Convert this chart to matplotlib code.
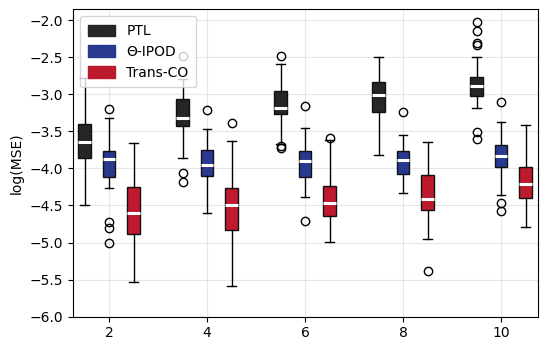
import numpy as np
import matplotlib
matplotlib.use("Agg")
import matplotlib.pyplot as plt
from matplotlib.patches import Patch

# number of groups on the x axis
groups = [2, 4, 6, 8, 10]
methods = ["PTL", "Θ-IPOD", "Trans-CO"]
colors = ["#262626", "#2a3990", "#be1a2e"]

# box statistics, one list per method (one entry per group)
# PTL
ptl_med = [-3.64, -3.32, -3.19, -3.01, -2.89]
ptl_q1 = [-3.86, -3.43, -3.26, -3.24, -3.03]
ptl_q3 = [-3.40, -3.06, -2.96, -2.84, -2.77]
ptl_lo = [-4.49, -3.86, -3.67, -3.82, -3.18]
ptl_hi = [-2.78, -2.79, -2.59, -2.50, -2.50]
ptl_fl = [[], [-2.49, -4.06, -4.19], [-2.49, -3.70, -3.72], [],
          [-2.03, -2.15, -2.31, -2.34, -3.51, -3.60]]
# Θ-IPOD
ipod_med = [-3.88, -3.95, -3.90, -3.89, -3.83]
ipod_q1 = [-4.12, -4.10, -4.12, -4.07, -3.98]
ipod_q3 = [-3.76, -3.75, -3.76, -3.77, -3.69]
ipod_lo = [-4.26, -4.60, -4.38, -4.33, -4.36]
ipod_hi = [-3.32, -3.47, -3.45, -3.55, -3.38]
ipod_fl = [[-3.20, -4.72, -4.81, -5.01], [-3.21], [-3.16, -4.71], [-3.24],
           [-3.11, -4.47, -4.58]]
# Trans-CO
tco_med = [-4.60, -4.50, -4.47, -4.41, -4.21]
tco_q1 = [-4.88, -4.83, -4.64, -4.56, -4.40]
tco_q3 = [-4.25, -4.27, -4.24, -4.09, -3.98]
tco_lo = [-5.53, -5.58, -4.99, -4.95, -4.79]
tco_hi = [-3.66, -3.63, -3.62, -3.65, -3.42]
tco_fl = [[], [-3.39], [-3.59], [-5.38], []]

data = [
    (ptl_med, ptl_q1, ptl_q3, ptl_lo, ptl_hi, ptl_fl),
    (ipod_med, ipod_q1, ipod_q3, ipod_lo, ipod_hi, ipod_fl),
    (tco_med, tco_q1, tco_q3, tco_lo, tco_hi, tco_fl),
]
offsets = [-0.5, 0.0, 0.5]

fig = plt.figure(figsize=(5.48, 3.51), dpi=100)
ax = fig.add_axes([0.1332, 0.0977, 0.8486, 0.8758])

for k, (med, q1, q3, lo, hi, fl) in enumerate(data):
    stats = []
    for i in range(len(groups)):
        stats.append(dict(med=med[i], q1=q1[i], q3=q3[i],
                          whislo=lo[i], whishi=hi[i], fliers=fl[i]))
    pos = [g + offsets[k] for g in groups]
    ax.bxp(stats, positions=pos, widths=0.25, capwidths=0.17,
           patch_artist=True, manage_ticks=False,
           boxprops=dict(facecolor=colors[k], edgecolor="#111111", linewidth=1),
           medianprops=dict(color="white", linewidth=2.2),
           whiskerprops=dict(color="black", linewidth=1),
           capprops=dict(color="black", linewidth=1),
           flierprops=dict(marker="o", markerfacecolor="none",
                           markeredgecolor="black", markersize=6))

ax.set_xticks(groups)
ax.set_xlim(1.265, 10.755)
ax.set_ylim(-6.0, -1.855)
ax.set_yticks(np.arange(-6.0, -1.99, 0.5))
ax.grid(True, alpha=0.3)
ax.set_axisbelow(True)
ax.set_ylabel("log(MSE)")

handles = [Patch(facecolor=colors[k], edgecolor=colors[k], label=methods[k])
           for k in range(3)]
ax.legend(handles=handles, loc="upper left", handleheight=0.85,
          labelspacing=0.5, borderpad=0.55)

fig.savefig("out.png", dpi=100)
